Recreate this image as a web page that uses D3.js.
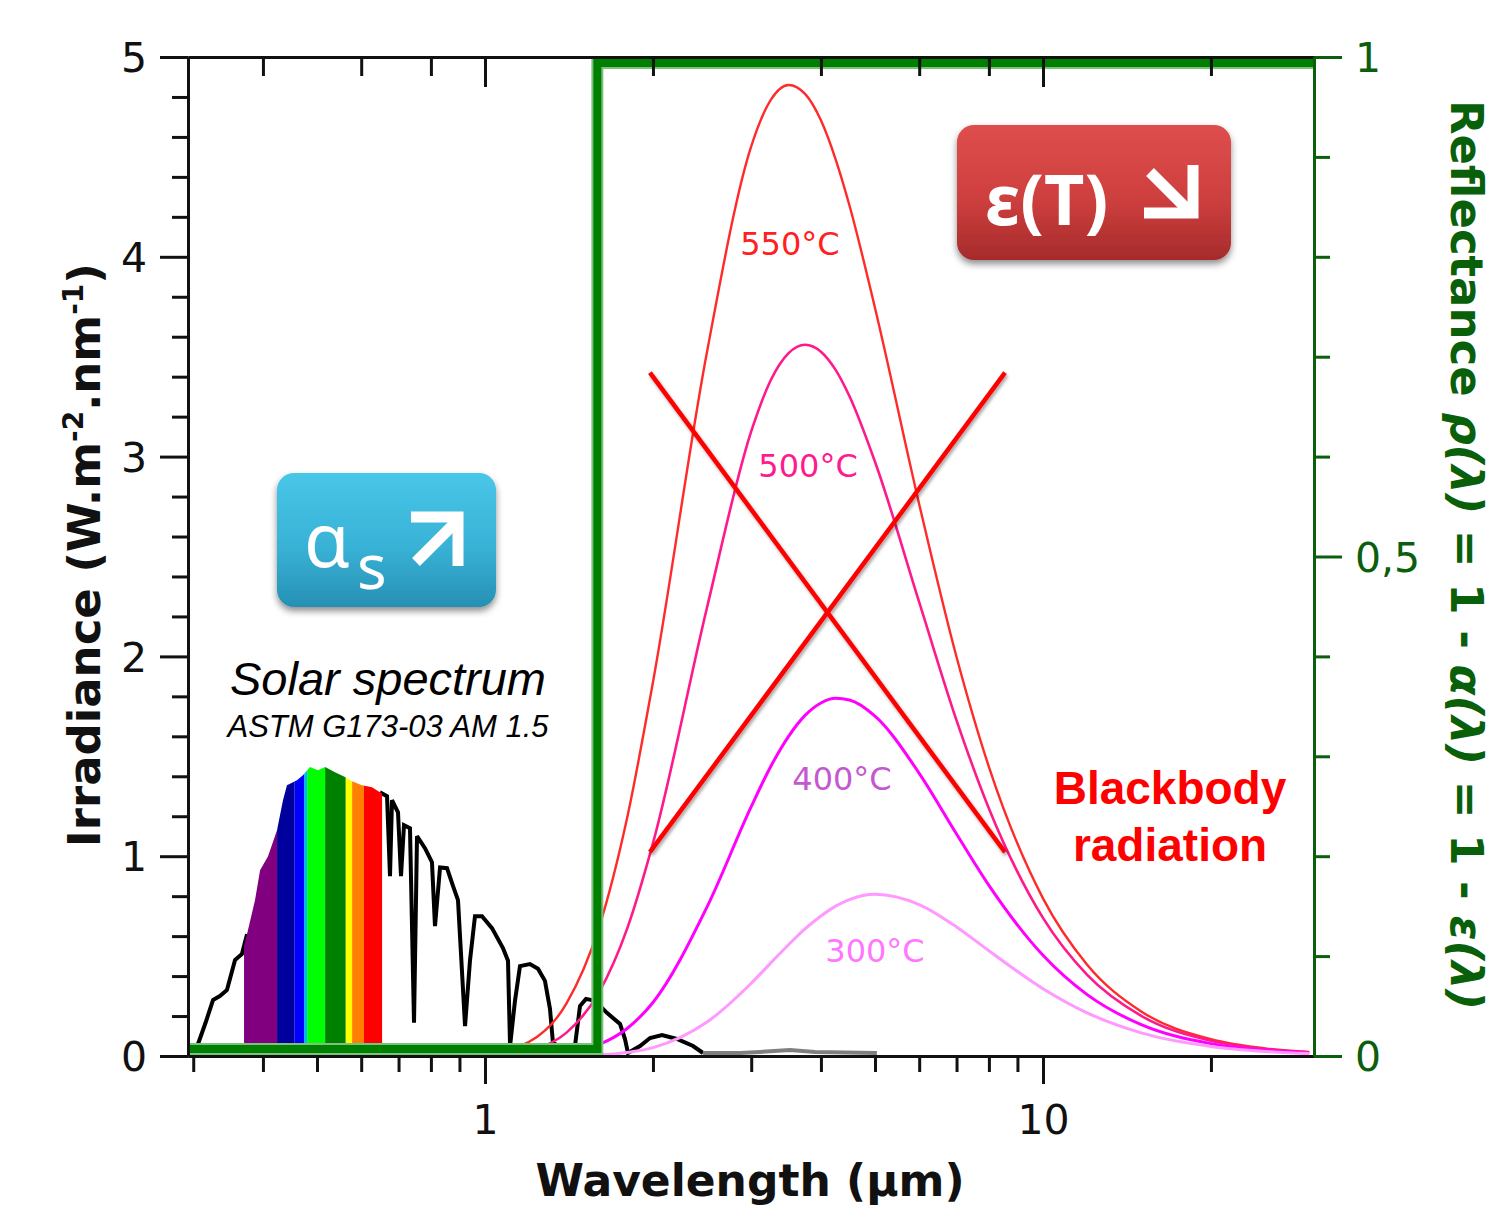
<!DOCTYPE html>
<html><head><meta charset="utf-8">
<script src="https://cdn.jsdelivr.net/npm/d3@7"></script>
<style>html,body{margin:0;padding:0;background:#fff;} svg{display:block}</style>
</head><body><svg id="chart" width="1501" height="1213"></svg>
<script>
// ---------- DATA ----------
// Solar spectrum (ASTM G173-03 AM1.5): wavelength (µm) and irradiance (W.m-2.nm-1)
const solarWavelengths = [0.300,0.306,0.316,0.3255,0.335,0.3448,0.3565,0.3668,0.3746,0.3871,0.3953,0.4085,0.4239,0.4345,0.4417,0.4603,0.4718,0.4858,0.5022,0.517,0.5385,0.5612,0.5776,0.6019,0.6273,0.6482,0.6675,0.6757,0.6813,0.6984,0.7071,0.7159,0.7338,0.7461,0.7554,0.7806,0.8035,0.8136,0.8307,0.8549,0.8766,0.8946,0.921,0.9399,0.9596,0.9877,1.0293,1.077,1.0996,1.109,1.1318,1.1554,1.2038,1.2445,1.2808,1.3076,1.3239,1.3911,1.4496,1.48,1.517,1.5745,1.654,1.746,1.782,1.804,1.896,1.976,2.076,2.208,2.36,2.459,2.864,3.11,3.52,3.903,5.04];
const solarIrradiance = [0.00,0.06,0.17,0.28,0.30,0.33,0.48,0.51,0.61,0.78,0.93,1.00,1.13,1.28,1.355,1.38,1.405,1.446,1.43,1.446,1.42,1.396,1.375,1.355,1.345,1.32,1.30,0.90,1.28,1.22,0.90,1.155,1.14,0.166,1.10,1.04,0.97,0.65,0.944,0.94,0.85,0.78,0.15,0.477,0.70,0.70,0.64,0.54,0.477,0.05,0.276,0.45,0.46,0.437,0.376,0.236,0.065,0.035,0.05,0.25,0.286,0.276,0.216,0.16,0.085,0.015,0.05,0.09,0.105,0.085,0.05,0.015,0.015,0.02,0.03,0.02,0.015];

// Visible colour bands under the solar spectrum (µm)
const bandStarts = [0.370,0.424,0.456,0.474,0.480,0.517,0.563,0.578,0.607];
const bandEnds   = [0.424,0.456,0.474,0.480,0.517,0.563,0.578,0.607,0.654];
const bandColors = ['#800080','#00009c','#0000ff','#00b4ff','#00ff00','#008000','#ffff00','#ff8000','#ff0000'];

// Blackbody curves (scaled irradiance)
const bbWavelengths = [1,1.2,1.4,1.6,1.8,2,2.5,3,3.25,3.5,3.75,4,4.25,4.5,5,6,7,8,10,12,15,20,25,30];
const bb550 = [0.010,0.071,0.263,0.642,1.199,1.871,3.525,4.553,4.784,4.860,4.814,4.683,4.488,4.257,3.744,2.762,1.997,1.447,0.789,0.457,0.223,0.084,0.038,0.020];
const bb500 = [0.003,0.028,0.117,0.317,0.641,1.065,2.245,3.126,3.381,3.518,3.560,3.525,3.434,3.302,2.974,2.272,1.680,1.239,0.691,0.406,0.201,0.076,0.035,0.018];
const bb400 = [0.000,0.003,0.016,0.057,0.139,0.268,0.746,1.248,1.448,1.600,1.706,1.767,1.790,1.782,1.701,1.415,1.111,0.854,0.504,0.307,0.157,0.062,0.029,0.015];
const bb300 = [0.000,0.000,0.001,0.006,0.018,0.042,0.170,0.364,0.465,0.557,0.637,0.701,0.750,0.783,0.810,0.758,0.646,0.527,0.337,0.216,0.116,0.048,0.023,0.012];
const bbLabels = ['550°C','500°C','400°C','300°C'];

// Reflectance step (right axis)
const reflWavelengths = [0.2936,1.59,1.59,30.6];
const reflValues = [0.007,0.007,0.994,0.994];

// Red cross (data units)
const crossWavelengths = [1.975,8.55];
const crossLevels = [1.02,3.42];

// Ticks
const xTicksBottomMinor = [0.3,0.4,0.5,0.6,0.7,0.8,0.9,2,3,4,5,6,7,8,9,20];
const xTicksTopMinor = [0.4,0.6,0.8,2,4,6,8,20];
const xTicksMajor = [1,10];
const yLeftMajor = [0,1,2,3,4,5];
const yRightMajor = [0,0.5,1];
const yRightLabels = ['0','0,5','1'];

// ---------- CHART ----------
const svg = d3.select('#chart');
const W = 1501, H = 1213;
svg.append('rect').attr('width',W).attr('height',H).attr('fill','#fff');

const x = d3.scaleLog().domain([0.2936, 30.6]).range([188, 1314]);
const yL = d3.scaleLinear().domain([0,5]).range([1056,57]);
const yR = d3.scaleLinear().domain([0,1]).range([1056,57]);

const defs = svg.append('defs');
const gA = defs.append('linearGradient').attr('id','gradA').attr('x1',0).attr('y1',0).attr('x2',0).attr('y2',1);
gA.append('stop').attr('offset','0%').attr('stop-color','#48c6e8');
gA.append('stop').attr('offset','55%').attr('stop-color','#38b2d6');
gA.append('stop').attr('offset','100%').attr('stop-color','#2690b4');
const gE = defs.append('linearGradient').attr('id','gradE').attr('x1',0).attr('y1',0).attr('x2',0).attr('y2',1);
gE.append('stop').attr('offset','0%').attr('stop-color','#de4e4c');
gE.append('stop').attr('offset','55%').attr('stop-color','#ce3f3e');
gE.append('stop').attr('offset','100%').attr('stop-color','#a62b2b');
const f = defs.append('filter').attr('id','shadow').attr('x','-20%').attr('y','-20%').attr('width','140%').attr('height','150%');
f.append('feDropShadow').attr('dx',0).attr('dy',4).attr('stdDeviation',3.5).attr('flood-color','#000').attr('flood-opacity',0.45);
const f2 = defs.append('filter').attr('id','lshadow').attr('x','-10%').attr('y','-10%').attr('width','120%').attr('height','120%');
f2.append('feDropShadow').attr('dx',1.5).attr('dy',2.5).attr('stdDeviation',1.5).attr('flood-color','#000').attr('flood-opacity',0.35);

const solarPts = solarWavelengths.map((w,i)=>[w, solarIrradiance[i]]);
const area = d3.area().x(d=>x(d[0])).y0(yL(0)).y1(d=>yL(d[1]));
defs.append('clipPath').attr('id','solarClip').append('path').attr('d', area(solarPts));

const line = d3.line().x(d=>x(d[0])).y(d=>yL(d[1]));

// Solar spectrum line (black, then grey tail)
const gSolar = svg.append('g');
gSolar.append('path').attr('d', line(solarPts.filter(d=>d[0] <= 0.3746)))
  .attr('fill','none').attr('stroke','#000').attr('stroke-width',4).attr('stroke-linejoin','round');
gSolar.append('path').attr('d', line(solarPts.filter(d=>d[0] >= 0.6482 && d[0] <= 2.459)))
  .attr('fill','none').attr('stroke','#000').attr('stroke-width',4).attr('stroke-linejoin','miter').attr('stroke-miterlimit',2);
gSolar.append('path').attr('d', line(solarPts.filter(d=>d[0] >= 2.459)))
  .attr('fill','none').attr('stroke','#7f7f7f').attr('stroke-width',4);

// colour bands
const gBands = svg.append('g').attr('clip-path','url(#solarClip)');
bandStarts.forEach((s,i)=>{
  gBands.append('rect').attr('x', x(s)).attr('width', x(bandEnds[i]) - x(s))
    .attr('y', yL(2)).attr('height', yL(0)-yL(2)).attr('fill', bandColors[i]);
});

// Blackbody curves
const bbSeries = [bb550, bb500, bb400, bb300];
const bbColors = ['#ff2a2a','#ff1a8c','#ff00ff','#ff99ff'];
const bbWidths = [2.4,2.6,3,3];
const smooth = d3.line().x(d=>x(d[0])).y(d=>yL(d[1])).curve(d3.curveMonotoneX);
bbSeries.forEach((s,i)=>{
  svg.append('path').attr('d', smooth(bbWavelengths.map((w,j)=>[w,s[j]])))
    .attr('fill','none').attr('stroke',bbColors[i]).attr('stroke-width',bbWidths[i]);
});

// Reflectance step line
const reflPts = reflWavelengths.map((w,i)=>[w, reflValues[i]]);
const rline = d3.line().x(d=>x(d[0])).y(d=>yR(d[1]));
svg.append('path').attr('d', rline(reflPts)).attr('fill','none')
  .attr('stroke','#7fbf7f').attr('stroke-width',12).attr('stroke-linejoin','miter');
svg.append('path').attr('d', rline(reflPts)).attr('fill','none')
  .attr('stroke','#008000').attr('stroke-width',8).attr('stroke-linejoin','miter');

// Red cross
const gX = svg.append('g').attr('filter','url(#lshadow)');
gX.append('line').attr('x1',x(crossWavelengths[0])).attr('y1',yL(crossLevels[1]))
  .attr('x2',x(crossWavelengths[1])).attr('y2',yL(crossLevels[0]))
  .attr('stroke','#ff0000').attr('stroke-width',4.5);
gX.append('line').attr('x1',x(crossWavelengths[0])).attr('y1',yL(crossLevels[0]))
  .attr('x2',x(crossWavelengths[1])).attr('y2',yL(crossLevels[1]))
  .attr('stroke','#ff0000').attr('stroke-width',4.5);

// Temperature labels
const tLabelPos = [[3.52,4.009],[3.793,2.898],[4.363,1.331],[5.0,0.47]];
const tLabelColors = ['#ff2020','#ff1a90','#c458d0','#ff77ff'];
bbLabels.forEach((t,i)=>{
  svg.append('text').attr('x', x(tLabelPos[i][0])).attr('y', yL(tLabelPos[i][1]))
    .attr('text-anchor','middle').attr('font-family','DejaVu Sans').attr('font-size',32)
    .attr('fill',tLabelColors[i]).text(t);
});

// Blackbody radiation text
const gBB = svg.append('g').attr('font-family','Liberation Sans, Arial').attr('font-weight','bold')
  .attr('font-size',46).attr('fill','#ff0000').attr('text-anchor','middle');
gBB.append('text').attr('x',1170).attr('y',804).text('Blackbody');
gBB.append('text').attr('x',1170).attr('y',861).text('radiation');

// Solar spectrum text
svg.append('text').attr('x',388).attr('y',695).attr('text-anchor','middle')
  .attr('font-family','Liberation Sans, Arial').attr('font-style','italic').attr('font-size',47)
  .attr('fill','#000').text('Solar spectrum');
svg.append('text').attr('x',388).attr('y',737).attr('text-anchor','middle')
  .attr('font-family','Liberation Sans, Arial').attr('font-style','italic').attr('font-size',31)
  .attr('fill','#000').text('ASTM G173-03 AM 1.5');

// alpha box
const bA = svg.append('g').attr('transform','translate(277,473)');
bA.append('rect').attr('width',219).attr('height',134).attr('rx',17).attr('fill','url(#gradA)')
  .attr('filter','url(#shadow)');
bA.append('text').attr('x',27).attr('y',94).attr('font-family','Noto Sans').attr('font-size',74)
  .attr('fill','#fff').text('α');
bA.append('text').attr('x',80).attr('y',116).attr('font-family','Noto Sans').attr('font-size',62)
  .attr('fill','#fff').text('s');
bA.append('path').attr('d','M134,44 H181 V93').attr('fill','none').attr('stroke','#fff').attr('stroke-width',11);
bA.append('path').attr('d','M139,89 L178,50').attr('fill','none').attr('stroke','#fff').attr('stroke-width',11);

// epsilon box
const bE = svg.append('g').attr('transform','translate(957,125)');
bE.append('rect').attr('width',274).attr('height',135).attr('rx',17).attr('fill','url(#gradE)')
  .attr('filter','url(#shadow)');
bE.append('text').attr('x',28).attr('y',100).attr('font-family','Noto Sans').attr('font-weight','bold')
  .attr('font-size',70).attr('fill','#fff').text('ε(T)');
bE.append('path').attr('d','M187,88 H236 V40').attr('fill','none').attr('stroke','#fff').attr('stroke-width',11);
bE.append('path').attr('d','M193,47 L231,85').attr('fill','none').attr('stroke','#fff').attr('stroke-width',11);

// ---------- AXES ----------
function styleAxis(g, color, fs){
  g.attr('font-family','DejaVu Sans').attr('font-size',fs).attr('color',color);
  g.selectAll('path.domain').attr('stroke-width',3);
  g.selectAll('.tick line').attr('stroke-width',3);
}
// left
const gl1 = svg.append('g').attr('transform','translate(188,0)')
  .call(d3.axisLeft(yL).tickValues(yLeftMajor).tickSize(28).tickSizeOuter(0).tickPadding(13).tickFormat(d3.format('d')));
styleAxis(gl1,'#111',41);
gl1.selectAll('.tick text').attr('dy','0.36em');
const gl2 = svg.append('g').attr('transform','translate(188,0)')
  .call(d3.axisLeft(yL).tickValues(d3.range(0,5.01,0.2).filter(v=>Math.abs(v-Math.round(v))>0.01)).tickSize(16).tickSizeOuter(0).tickFormat(''));
styleAxis(gl2,'#111',41);

// bottom
const gb1 = svg.append('g').attr('transform','translate(0,1056)')
  .call(d3.axisBottom(x).tickValues(xTicksMajor).tickSize(28).tickSizeOuter(0).tickPadding(21).tickFormat(d3.format('d')));
styleAxis(gb1,'#111',41);
const gb2 = svg.append('g').attr('transform','translate(0,1056)')
  .call(d3.axisBottom(x).tickValues(xTicksBottomMinor).tickSize(16).tickSizeOuter(0).tickFormat(''));
styleAxis(gb2,'#111',41);

// top (ticks inward)
const gt1 = svg.append('g').attr('transform','translate(0,57)')
  .call(d3.axisBottom(x).tickValues(xTicksMajor).tickSize(30).tickSizeOuter(0).tickFormat(''));
styleAxis(gt1,'#111',41);
const gt2 = svg.append('g').attr('transform','translate(0,57)')
  .call(d3.axisBottom(x).tickValues(xTicksTopMinor).tickSize(19).tickSizeOuter(0).tickFormat(''));
styleAxis(gt2,'#111',41);

// right
const rColor = '#0b5e0b';
const gr1 = svg.append('g').attr('transform','translate(1314,0)')
  .call(d3.axisRight(yR).tickValues(yRightMajor).tickSize(28).tickSizeOuter(0).tickPadding(13)
  .tickFormat((d,i)=>yRightLabels[i]));
styleAxis(gr1,rColor,41);
gr1.selectAll('.tick text').attr('dy','0.36em');
const gr2 = svg.append('g').attr('transform','translate(1314,0)')
  .call(d3.axisRight(yR).tickValues([0.1,0.2,0.3,0.4,0.6,0.7,0.8,0.9]).tickSize(16).tickSizeOuter(0).tickFormat(''));
styleAxis(gr2,rColor,41);

// ---------- TITLES ----------
svg.append('text').attr('x',750).attr('y',1196).attr('text-anchor','middle')
  .attr('font-family','DejaVu Sans').attr('font-weight','bold').attr('font-size',44).attr('fill','#111')
  .text('Wavelength (µm)');

const tl = svg.append('text').attr('transform','translate(100,555) rotate(-90)').attr('text-anchor','middle')
  .attr('font-family','DejaVu Sans').attr('font-weight','bold').attr('font-size',45).attr('fill','#111');
tl.append('tspan').text('Irradiance (W.m');
tl.append('tspan').attr('font-size',28).attr('dy',-17).text('-2');
tl.append('tspan').attr('dy',17).text('.nm');
tl.append('tspan').attr('font-size',28).attr('dy',-17).text('-1');
tl.append('tspan').attr('dy',17).text(')');

const tr = svg.append('text').attr('transform','translate(1451,555) rotate(90)').attr('text-anchor','middle')
  .attr('font-family','DejaVu Sans').attr('font-weight','bold').attr('font-size',45).attr('fill','#0a600a');
tr.append('tspan').text('Reflectance ');
tr.append('tspan').attr('font-style','italic').text('ρ(λ)');
tr.append('tspan').text(' = 1 - ');
tr.append('tspan').attr('font-style','italic').text('α(λ)');
tr.append('tspan').text(' = 1 - ');
tr.append('tspan').attr('font-style','italic').text('ε(λ)');
</script>
</body></html>
